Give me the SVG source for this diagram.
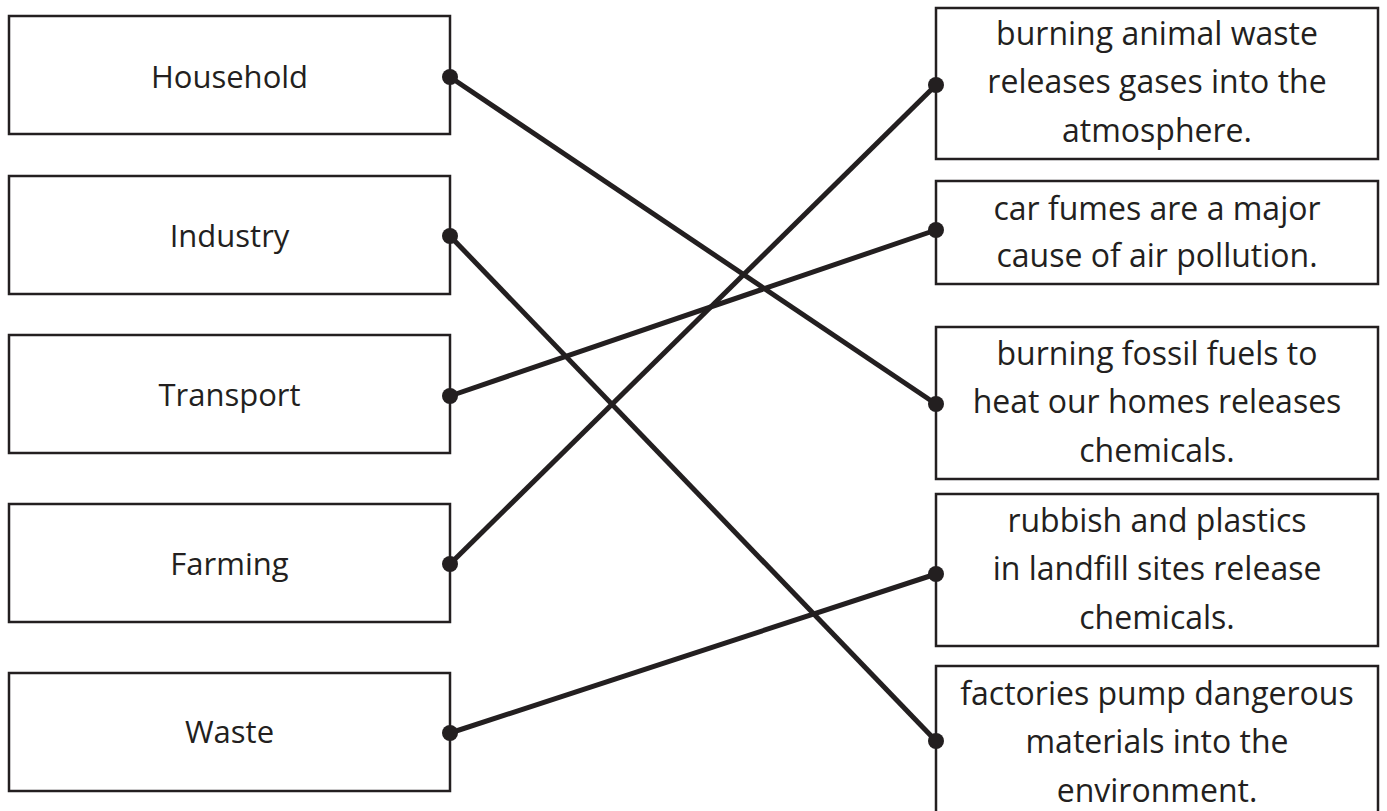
<svg xmlns="http://www.w3.org/2000/svg" width="1387" height="811" viewBox="0 0 1387 811">
<style>
.box{fill:#fff;stroke:#231f20;stroke-width:2.5}
.t{font-family:"Open Sans","Liberation Sans",sans-serif;font-size:31px;fill:#231f20;text-anchor:middle}
.r{font-size:32px}
.c line{stroke:#231f20;stroke-width:5}
.c circle{fill:#231f20}
</style>
<rect width="1387" height="811" fill="#fff"/>
<g id="household"><rect class="box" x="9" y="16" width="441" height="118"/><text class="t" x="229.5" y="88">Household</text></g>
<g id="industry"><rect class="box" x="9" y="176" width="441" height="118"/><text class="t" x="229.5" y="247">Industry</text></g>
<g id="transport"><rect class="box" x="9" y="335" width="441" height="118"/><text class="t" x="229.5" y="406">Transport</text></g>
<g id="farming"><rect class="box" x="9" y="504" width="441" height="118"/><text class="t" x="229.5" y="575">Farming</text></g>
<g id="waste"><rect class="box" x="9" y="673" width="441" height="118"/><text class="t" x="229.5" y="743">Waste</text></g>
<g id="animal"><rect class="box" x="936" y="8" width="442" height="151"/><text class="t r" x="1157" y="45">burning animal waste</text><text class="t r" x="1157" y="93">releases gases into the</text><text class="t r" x="1157" y="142">atmosphere.</text></g>
<g id="car"><rect class="box" x="936" y="181" width="442" height="103"/><text class="t r" x="1157" y="220">car fumes are a major</text><text class="t r" x="1157" y="267">cause of air pollution.</text></g>
<g id="fossil"><rect class="box" x="936" y="327" width="442" height="152"/><text class="t r" x="1157" y="365">burning fossil fuels to</text><text class="t r" x="1157" y="413">heat our homes releases</text><text class="t r" x="1157" y="462">chemicals.</text></g>
<g id="rubbish"><rect class="box" x="936" y="494" width="442" height="152"/><text class="t r" x="1157" y="532">rubbish and plastics</text><text class="t r" x="1157" y="580">in landfill sites release</text><text class="t r" x="1157" y="629">chemicals.</text></g>
<g id="factories"><rect class="box" x="936" y="666" width="442" height="160"/><text class="t r" x="1157" y="705">factories pump dangerous</text><text class="t r" x="1157" y="753">materials into the</text><text class="t r" x="1157" y="802">environment.</text></g>
<g id="connectors" class="c">
<line x1="450" y1="77" x2="936" y2="404"/>
<line x1="450" y1="236" x2="936" y2="741"/>
<line x1="450" y1="396" x2="936" y2="230"/>
<line x1="450" y1="564" x2="936" y2="85"/>
<line x1="450" y1="733" x2="936" y2="574"/>
<circle cx="450" cy="77" r="8"/><circle cx="450" cy="236" r="8"/><circle cx="450" cy="396" r="8"/><circle cx="450" cy="564" r="8"/><circle cx="450" cy="733" r="8"/>
<circle cx="936" cy="85" r="8"/><circle cx="936" cy="230" r="8"/><circle cx="936" cy="404" r="8"/><circle cx="936" cy="574" r="8"/><circle cx="936" cy="741" r="8"/>
</g>
</svg>
